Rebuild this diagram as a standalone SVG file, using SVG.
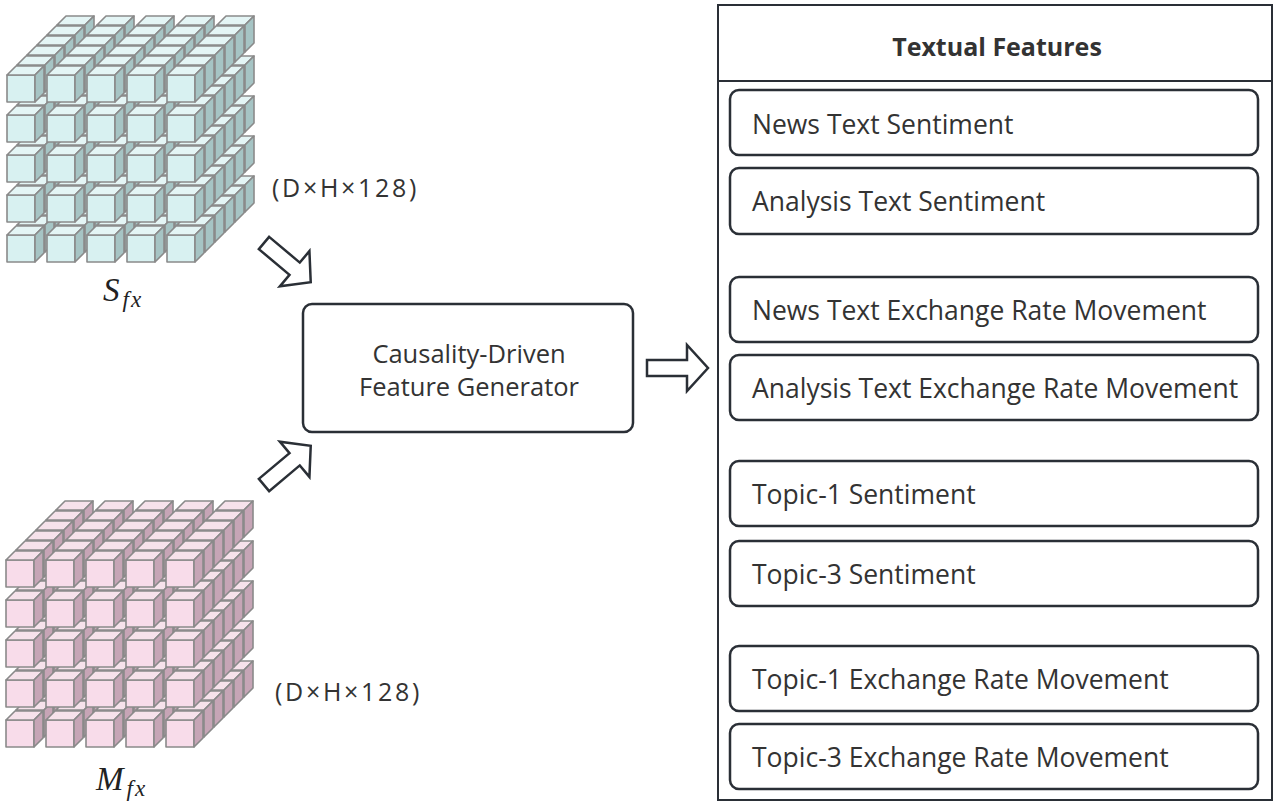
<svg xmlns="http://www.w3.org/2000/svg" xmlns:xlink="http://www.w3.org/1999/xlink" width="1276" height="808" viewBox="0 0 1276 808">
<style>
.cs{stroke:#8a8a8a;stroke-width:1.6;stroke-linejoin:round}
.cf{fill:#d8f1f1}.ct{fill:#e4f5f5}.cd{fill:#a6c4c4}
.pf{fill:#f8dcea}.pt{fill:#f6e2eb}.pd{fill:#c6a5b6}
.box{fill:#fff;stroke:#2a2f36;stroke-width:2.5}
.arr{fill:#fff;stroke:#2a2f36;stroke-width:2.5;stroke-linejoin:miter}
.lbl{font-family:"Open Sans","Noto Sans",sans-serif;fill:#333}
.math{font-family:"Liberation Serif","DejaVu Serif",serif;font-style:italic;fill:#222}
</style>
<defs>
<g id="cc" class="cs">
<rect class="cf" x="0" y="0" width="28" height="27"/>
<polygon class="ct" points="0,0 28,0 37,-9 9,-9"/>
<polygon class="cd" points="28,0 37,-9 37,18 28,27"/>
</g>
<g id="pc" class="cs">
<rect class="pf" x="0" y="0" width="28" height="27"/>
<polygon class="pt" points="0,0 28,0 37,-9 9,-9"/>
<polygon class="pd" points="28,0 37,-9 37,18 28,27"/>
</g>
<g id="crow"><use href="#cc" x="0"/><use href="#cc" x="40"/><use href="#cc" x="80"/><use href="#cc" x="120"/><use href="#cc" x="160"/></g>
<g id="prow"><use href="#pc" x="0"/><use href="#pc" x="40"/><use href="#pc" x="80"/><use href="#pc" x="120"/><use href="#pc" x="160"/></g>
<g id="clayer"><use href="#crow" y="0"/><use href="#crow" y="40"/><use href="#crow" y="80"/><use href="#crow" y="120"/><use href="#crow" y="160"/></g>
<g id="player"><use href="#prow" y="0"/><use href="#prow" y="40"/><use href="#prow" y="80"/><use href="#prow" y="120"/><use href="#prow" y="160"/></g>
<path id="harrow" d="M0,-8 L40,-8 L40,-23 L61,0 L40,23 L40,8 L0,8 Z"/>
</defs>
<rect width="1276" height="808" fill="#fff"/>

<g id="sfx-block" transform="translate(7,75)">
<use href="#clayer" x="50" y="-50"/><use href="#clayer" x="40" y="-40"/><use href="#clayer" x="30" y="-30"/><use href="#clayer" x="20" y="-20"/><use href="#clayer" x="10" y="-10"/><use href="#clayer" x="0" y="0"/>
</g>
<g id="sfx-label">
<text class="math" x="103" y="301" font-size="33">S<tspan font-size="23" dx="3" dy="6" letter-spacing="2">fx</tspan></text>
<text class="lbl" x="272" y="197" font-size="25" letter-spacing="2.7">(D×H×128)</text>
</g>

<g id="mfx-block" transform="translate(6,560)">
<use href="#player" x="50" y="-50"/><use href="#player" x="40" y="-40"/><use href="#player" x="30" y="-30"/><use href="#player" x="20" y="-20"/><use href="#player" x="10" y="-10"/><use href="#player" x="0" y="0"/>
</g>
<g id="mfx-label">
<text class="math" x="96" y="790" font-size="33">M<tspan font-size="23" dx="3" dy="6" letter-spacing="2">fx</tspan></text>
<text class="lbl" x="275" y="701" font-size="25" letter-spacing="2.7">(D×H×128)</text>
</g>

<g id="generator">
<rect class="box" x="303" y="304" width="330" height="128" rx="9"/>
<text class="lbl" x="469" y="363" font-size="25.5" text-anchor="middle">Causality-Driven</text>
<text class="lbl" x="469" y="396" font-size="25.5" text-anchor="middle">Feature Generator</text>
</g>

<g id="connectors">
<use class="arr" href="#harrow" transform="translate(264,243) rotate(40)"/>
<use class="arr" href="#harrow" transform="translate(264,485) rotate(-40)"/>
<use class="arr" href="#harrow" transform="translate(647,368)"/>
</g>

<g id="textual-features">
<rect x="718" y="5" width="554" height="795" fill="#fff" stroke="#2a2f36" stroke-width="2"/>
<line x1="718" y1="81" x2="1272" y2="81" stroke="#2a2f36" stroke-width="2"/>
<text class="lbl" x="997" y="56" font-size="25" font-weight="bold" text-anchor="middle">Textual Features</text>
</g>
<g id="f1"><rect class="box" x="730" y="90" width="528" height="65" rx="9"/><text class="lbl" x="752" y="134" font-size="26.5">News Text Sentiment</text></g>
<g id="f2"><rect class="box" x="730" y="168" width="528" height="66" rx="9"/><text class="lbl" x="752" y="211" font-size="26.5">Analysis Text Sentiment</text></g>
<g id="f3"><rect class="box" x="730" y="277" width="528" height="65" rx="9"/><text class="lbl" x="752" y="320" font-size="26.5">News Text Exchange Rate Movement</text></g>
<g id="f4"><rect class="box" x="730" y="355" width="528" height="65" rx="9"/><text class="lbl" x="752" y="398" font-size="26.5">Analysis Text Exchange Rate Movement</text></g>
<g id="f5"><rect class="box" x="730" y="461" width="528" height="65" rx="9"/><text class="lbl" x="752" y="504" font-size="26.5">Topic-1 Sentiment</text></g>
<g id="f6"><rect class="box" x="730" y="541" width="528" height="65" rx="9"/><text class="lbl" x="752" y="584" font-size="26.5">Topic-3 Sentiment</text></g>
<g id="f7"><rect class="box" x="730" y="646" width="528" height="65" rx="9"/><text class="lbl" x="752" y="689" font-size="26.5">Topic-1 Exchange Rate Movement</text></g>
<g id="f8"><rect class="box" x="730" y="724" width="528" height="65" rx="9"/><text class="lbl" x="752" y="767" font-size="26.5">Topic-3 Exchange Rate Movement</text></g>
</svg>
